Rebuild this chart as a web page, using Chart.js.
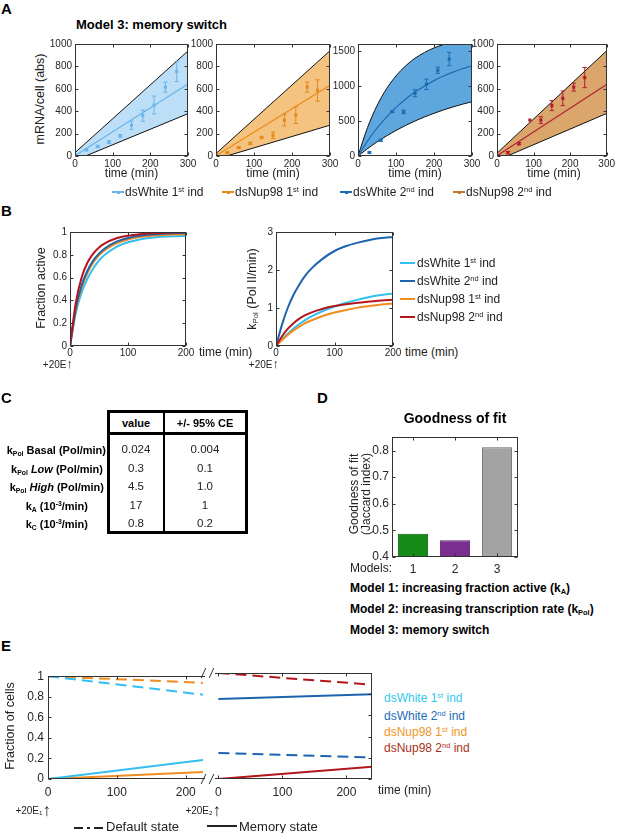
<!DOCTYPE html>
<html lang="en">
<head>
<meta charset="UTF-8">
<title>Model 3: memory switch</title>
<script src="https://cdn.jsdelivr.net/npm/chart.js"></script>
<style>
  body { margin: 0; background: #fff; }
  #fig { position: relative; width: 617px; height: 833px; overflow: hidden; background: #fff;
         font-family: 'Liberation Sans', Arial, Helvetica, sans-serif; color: #222; }
  #fig canvas { position: absolute; }
  .t { position: absolute; white-space: nowrap; line-height: 1; font-size: 12px; }
  .t sup { font-size: 0.62em; vertical-align: 0.55em; line-height: 0; }
  .t sub { font-size: 0.62em; vertical-align: -0.3em; line-height: 0; }
  .b { font-weight: bold; color: #000; }
  .n { font-family: 'Liberation Sans Narrow', 'Arial Narrow', 'Liberation Sans', Arial, sans-serif; }
  .ln { position: absolute; background: #000; }
</style>
</head>
<body>
<div id="fig"></div>
<script>
// ---------------- data ----------------
// A: mRNA per cell, measured means +/- error, and model band / fit
const timeTicksA = [0, 100, 200, 300];
const mrnaTicks = [0, 200, 400, 600, 800, 1000];
const mrnaTicksHigh = [0, 500, 1000, 1500];

const tWt1 = [0, 30, 60, 90, 120, 150, 180, 210, 240, 270];
const wt1Mean = [5, 55, 85, 125, 180, 275, 360, 455, 615, 755];
const wt1Err = [0, 8, 10, 12, 12, 37, 50, 80, 45, 90];
const tNup1 = [0, 30, 60, 90, 120, 150, 180, 210, 240, 267];
const nup1Mean = [10, 30, 75, 112, 165, 185, 320, 365, 615, 585];
const nup1Err = [0, 5, 8, 10, 10, 30, 52, 75, 45, 95];
const tWt2 = [0, 30, 60, 90, 120, 150, 180, 210, 240];
const wt2Mean = [0, 50, 225, 634, 630, 897, 1023, 1225, 1385];
const wt2Err = [0, 10, 15, 12, 25, 50, 75, 45, 95];
const tNup2 = [0, 30, 60, 90, 120, 150, 180, 210, 240];
const nup2Mean = [0, 30, 110, 320, 320, 450, 515, 615, 700];
const nup2Err = [0, 10, 10, 0, 30, 45, 65, 35, 90];

const bandT = [0, 300];
const lowT = [0, 28, 300];
const wt1Upper = [30, 938];
const wt1Lower = [0, 0, 378];
const wt1Fit = [3, 643];
const nup1Upper = [22, 940];
const nup1Lower = [0, 0, 275];
const nup1Fit = [3, 632];
const nup2Upper = [25, 940];
const nup2Lower = [0, 0, 380];
const nup2Fit = [3, 638];

const curveT = [0, 25, 50, 75, 100, 125, 150, 175, 200, 225, 250, 275, 300];
const wt2Upper = [0, 406, 719, 960, 1144, 1287, 1396, 1479, 1544, 1593, 1631, 1661, 1683];
const wt2Lower = [0, 105, 201, 287, 365, 436, 500, 558, 610, 658, 701, 740, 775];
const wt2Fit = [0, 213, 397, 556, 694, 812, 913, 1001, 1077, 1142, 1198, 1247, 1290];

// B: fraction active and kPol over time
const tB = [0, 10, 20, 30, 40, 50, 60, 80, 100, 120, 140, 160, 180, 200];
const timeTicksB = [0, 100, 200];
const fracTicks = [0, 0.2, 0.4, 0.6, 0.8, 1];
const kpolTicks = [0, 1, 2, 3];
const fracWt1 = [0, 0.29, 0.47, 0.59, 0.68, 0.75, 0.80, 0.87, 0.91, 0.935, 0.95, 0.958, 0.963, 0.966];
const fracWt2 = [0, 0.33, 0.53, 0.66, 0.75, 0.81, 0.855, 0.915, 0.948, 0.967, 0.978, 0.985, 0.989, 0.991];
const fracNup1 = [0, 0.32, 0.51, 0.64, 0.73, 0.795, 0.84, 0.90, 0.935, 0.955, 0.967, 0.974, 0.979, 0.982];
const fracNup2 = [0, 0.38, 0.60, 0.73, 0.81, 0.865, 0.90, 0.945, 0.968, 0.981, 0.989, 0.993, 0.996, 0.998];
const kpolWt1 = [0, 0.17, 0.32, 0.46, 0.58, 0.68, 0.77, 0.92, 1.04, 1.14, 1.22, 1.29, 1.34, 1.38];
const kpolWt2 = [0, 0.55, 1.0, 1.35, 1.62, 1.85, 2.03, 2.3, 2.5, 2.63, 2.72, 2.79, 2.84, 2.87];
const kpolNup1 = [0, 0.15, 0.29, 0.41, 0.51, 0.60, 0.67, 0.79, 0.88, 0.95, 1.01, 1.05, 1.09, 1.12];
const kpolNup2 = [0, 0.25, 0.45, 0.60, 0.72, 0.81, 0.88, 0.98, 1.05, 1.10, 1.14, 1.17, 1.20, 1.22];

// C: fitted parameters
const paramNames = ['k<sub>Pol</sub> Basal (Pol/min)', 'k<sub>Pol</sub> <i>Low</i> (Pol/min)',
  'k<sub>Pol</sub> <i>High</i> (Pol/min)', 'k<sub>A</sub> (10<sup>-3</sup>/min)', 'k<sub>C</sub> (10<sup>-3</sup>/min)'];
const paramValues = ['0.024', '0.3', '4.5', '17', '0.8'];
const paramCE = ['0.004', '0.1', '1.0', '1', '0.2'];

// D: goodness of fit
const models = ['1', '2', '3'];
const jaccard = [0.487, 0.463, 0.812];
const jaccardTicks = [0.4, 0.5, 0.6, 0.7, 0.8];
const modelNotes = ['Model 1: increasing fraction active (k<sub>A</sub>)',
  'Model 2: increasing transcription rate (k<sub>Pol</sub>)', 'Model 3: memory switch'];

// E: fraction of cells in default / memory state
const timeTicksE = [0, 100, 200];
const eFirstT = [0, 225];
const eSecondT = [0, 240];
const wt1Default = [1.0, 0.82];
const wt1Memory = [0, 0.185];
const nup1Default = [1.0, 0.935];
const nup1Memory = [0, 0.068];
const wt2Default = [0.245, 0.203];
const wt2Memory = [0.755, 0.80];
const nup2Default = [1.0, 0.89];
const nup2Memory = [0, 0.115];

const seriesNames = ['dsWhite 1<sup>st</sup> ind', 'dsWhite 2<sup>nd</sup> ind',
  'dsNup98 1<sup>st</sup> ind', 'dsNup98 2<sup>nd</sup> ind'];

// ---------------- helpers ----------------
const fig = document.getElementById('fig');
Chart.defaults.font.family = "'Liberation Sans', Arial, sans-serif";
Chart.defaults.color = '#262626';
Chart.defaults.animation = false;
Chart.defaults.plugins.legend.display = false;
Chart.defaults.plugins.tooltip.enabled = false;
Chart.defaults.elements.point.radius = 0;
Chart.defaults.elements.point.hoverRadius = 0;

const xy = (xs, ys) => xs.map((x, i) => ({x, y: ys[i]}));

function label(html, x, y, css = '', align = 'l') {
  const d = document.createElement('div');
  d.className = 't';
  d.innerHTML = html;
  const tx = align === 'c' ? '-50%' : align === 'r' ? '-100%' : '0';
  d.style.cssText = `left:${x}px;top:${y}px;transform:translate(${tx},-50%);${css}`;
  fig.appendChild(d);
  return d;
}
function vlabel(html, x, y, css = '') {
  const d = document.createElement('div');
  d.className = 't';
  d.innerHTML = html;
  d.style.cssText = `left:${x}px;top:${y}px;transform:translate(-50%,-50%) rotate(-90deg);${css}`;
  fig.appendChild(d);
}
function rule(x, y, w, h, color = '#000') {
  const d = document.createElement('div');
  d.className = 'ln';
  d.style.cssText = `left:${x}px;top:${y}px;width:${w}px;height:${h}px;background:${color}`;
  fig.appendChild(d);
}
function swatch(x1, x2, y, color, w, marker) {
  rule(x1, y - w / 2, x2 - x1, w, color);
  if (marker) rule((x1 + x2) / 2 - 1.5, y - 1.5, 3, 3, color);
}

// axes box with inward ticks, like the original figure
const boxPlugin = {
  id: 'box',
  afterDatasetsDraw(chart, args, o) {
    const {ctx, chartArea: a, scales: {x, y}} = chart;
    const sides = o.sides || 'ltrb';
    const tl = 3;
    const L = Math.round(a.left) + 0.5, R = Math.round(a.right) - 0.5;
    const T = Math.round(a.top) + 0.5, B = Math.round(a.bottom) - 0.5;
    ctx.save();
    ctx.strokeStyle = '#333';
    ctx.lineWidth = 1;
    ctx.beginPath();
    if (sides.includes('l')) { ctx.moveTo(L, T); ctx.lineTo(L, B); }
    if (sides.includes('r')) { ctx.moveTo(R, T); ctx.lineTo(R, B); }
    if (sides.includes('t')) { ctx.moveTo(L - 0.5, T); ctx.lineTo(R + 0.5, T); }
    if (sides.includes('b')) { ctx.moveTo(L - 0.5, B); ctx.lineTo(R + 0.5, B); }
    x.ticks.forEach(t => {
      const px = Math.round(x.getPixelForValue(t.value)) + 0.5;
      if (sides.includes('b')) { ctx.moveTo(px, B); ctx.lineTo(px, B - tl); }
      if (sides.includes('t')) { ctx.moveTo(px, T); ctx.lineTo(px, T + tl); }
    });
    y.ticks.forEach(t => {
      const py = Math.round(y.getPixelForValue(t.value)) + 0.5;
      if (sides.includes('l')) { ctx.moveTo(L, py); ctx.lineTo(L + tl, py); }
      if (sides.includes('r')) { ctx.moveTo(R, py); ctx.lineTo(R - tl, py); }
    });
    ctx.stroke();
    ctx.restore();
  }
};

function axis(min, max, ticks, size, pad, show = true) {
  return {
    type: 'linear', min, max, offset: false,
    grid: {display: false, drawTicks: false},
    border: {display: false},
    ticks: {display: show, font: {size}, padding: pad, color: '#262626',
            callback: v => String(v), maxRotation: 0, autoSkip: false},
    afterBuildTicks: s => { s.ticks = ticks.map(v => ({value: v})); }
  };
}

// place a chart so its plot area lands on box = [x, y, w, h]
function plot(box, cfg, pad) {
  const [bx, by, bw, bh] = box;
  const p = Object.assign({l: 32, b: 18, t: 8, r: 12}, pad);
  const W = bw + p.l + p.r, H = bh + p.t + p.b;
  const c = document.createElement('canvas');
  c.width = W; c.height = H;
  c.style.left = (bx - p.l) + 'px';
  c.style.top = (by - p.t) + 'px';
  c.style.width = W + 'px';
  c.style.height = H + 'px';
  fig.appendChild(c);
  const o = cfg.options;
  o.responsive = false;
  o.maintainAspectRatio = false;
  o.layout = {padding: {left: 0, top: p.t, right: p.r, bottom: 0}, autoPadding: false};
  o.scales.x.afterFit = s => { s.height = p.b; };
  o.scales.y.afterFit = s => { s.width = p.l; };
  cfg.plugins = [boxPlugin];
  return new Chart(c, cfg);
}

function panelA(box, s, pad) {
  const errPts = [];
  s.t.forEach((t, i) => {
    if (s.err[i] > 0) errPts.push({x: t, y: s.mean[i] - s.err[i]}, {x: t, y: s.mean[i] + s.err[i]}, {x: t, y: null});
  });
  const mode = s.curved ? 'monotone' : 'default';
  return plot(box, {
    type: 'line',
    data: {datasets: [
      {data: xy(s.t, s.mean), showLine: false, pointStyle: 'rect', pointRadius: 2.2,
       pointBackgroundColor: s.pt, pointBorderColor: s.pt, pointBorderWidth: 0},
      {data: errPts, borderColor: s.pt, borderWidth: 1, pointStyle: 'line', pointRadius: 2.2,
       pointBorderColor: s.pt, pointBorderWidth: 1, spanGaps: false},
      {data: xy(s.fitT, s.fit), borderColor: s.line, borderWidth: 1.2, cubicInterpolationMode: mode},
      {data: xy(s.upT, s.up), borderColor: '#111', borderWidth: 1, fill: '+1',
       backgroundColor: s.fill, cubicInterpolationMode: mode},
      {data: xy(s.loT, s.lo), borderColor: '#111', borderWidth: 1, cubicInterpolationMode: mode}
    ]},
    options: {
      plugins: {filler: {drawTime: 'beforeDatasetsDraw'}},
      scales: {x: axis(0, 300, timeTicksA, 10, 2), y: axis(0, s.ymax, s.yt, 10, 3)}
    }
  }, pad);
}

function panelB(box, series, ymax, yt) {
  return plot(box, {
    type: 'line',
    data: {datasets: series.map(([ys, col]) => ({data: xy(tB, ys), borderColor: col,
      borderWidth: 2, cubicInterpolationMode: 'monotone'}))},
    options: {scales: {x: axis(0, 200, timeTicksB, 10, 1), y: axis(0, ymax, yt, 10, 3)}}
  });
}

function eLine(t, ys, col, dashed) {
  return {data: xy(t, ys), borderColor: col, borderWidth: 2, borderDash: dashed ? [11, 6] : []};
}

// ---------------- colours ----------------
const cyan = '#33bff0', blue = '#1d63ae', orange = '#f08c20', red = '#b3161c';

// ---------------- panel A ----------------
label('A', 1, 8, 'font-weight:bold;font-size:15px;color:#000');
label('Model 3: memory switch', 76, 24, 'font-weight:bold;font-size:13px;color:#000');
vlabel('mRNA/cell (abs)', 40, 99, 'font-size:12.5px');

panelA([75, 43, 113, 113], {t: tWt1, mean: wt1Mean, err: wt1Err, upT: bandT, up: wt1Upper,
  loT: lowT, lo: wt1Lower, fitT: bandT, fit: wt1Fit, ymax: 1000, yt: mrnaTicks,
  pt: '#6cb4ea', line: '#6cb4ea', fill: '#bcdff7'});
panelA([216, 43, 114, 113], {t: tNup1, mean: nup1Mean, err: nup1Err, upT: bandT, up: nup1Upper,
  loT: lowT, lo: nup1Lower, fitT: bandT, fit: nup1Fit, ymax: 1000, yt: mrnaTicks,
  pt: '#e5891c', line: '#e88a1c', fill: '#f5c380'});
panelA([358, 43, 114, 113], {t: tWt2, mean: wt2Mean, err: wt2Err, upT: curveT, up: wt2Upper,
  loT: curveT, lo: wt2Lower, fitT: curveT, fit: wt2Fit, ymax: 1600, yt: mrnaTicksHigh,
  pt: '#1a6db5', line: '#1a6db5', fill: '#5ea6de', curved: true});
panelA([497, 43, 114, 113], {t: tNup2, mean: nup2Mean, err: nup2Err, upT: bandT, up: nup2Upper,
  loT: lowT, lo: nup2Lower, fitT: bandT, fit: nup2Fit, ymax: 1000, yt: mrnaTicks,
  pt: '#b51c30', line: '#b22030', fill: '#dba66c'}, {r: 6});
[131.5, 273, 415, 554].forEach(x => label('time (min)', x, 173, 'font-size:12px', 'c'));

const legAOrder = [0, 2, 1, 3];
const legAColors = ['#6cb4ea', '#e88a1c', '#1a6db5', '#c57b2c'];
const legAX = [112, 222, 340, 453];
legAOrder.forEach((k, i) => {
  swatch(legAX[i], legAX[i] + 12, 192, legAColors[i], 1.5, true);
  label(seriesNames[k], legAX[i] + 13, 192, 'font-size:12px');
});

// ---------------- panel B ----------------
label('B', 1, 210, 'font-weight:bold;font-size:15px;color:#000');
panelB([70, 231, 116, 115], [[fracNup2, red], [fracWt2, blue], [fracNup1, orange], [fracWt1, cyan]], 1, fracTicks);
panelB([276, 231, 117, 115], [[kpolNup2, red], [kpolWt2, blue], [kpolNup1, orange], [kpolWt1, cyan]], 3, kpolTicks);
vlabel('Fraction active', 41, 288, 'font-size:12.5px');
vlabel('k<sub>Pol</sub> (Pol II/min)', 252, 289, 'font-size:12.5px');
label('time (min)', 199, 352, 'font-size:12px');
label('time (min)', 405, 352, 'font-size:12px');
label('+20E<span style="font-size:13px">&#8593;</span>', 73, 363, 'font-size:10px', 'r');
label('+20E<span style="font-size:13px">&#8593;</span>', 279, 363, 'font-size:10px', 'r');
const legBColors = [cyan, blue, orange, red];
[263, 281, 299, 317].forEach((y, i) => {
  swatch(400, 415, y, legBColors[i], 2);
  label(seriesNames[i], 417, y, 'font-size:12px');
});

// ---------------- panel C ----------------
label('C', 1, 397, 'font-weight:bold;font-size:15px;color:#000');
rule(107, 410, 141, 3);
rule(107, 432, 141, 3);
rule(107, 531, 141, 3);
rule(107, 410, 3, 124);
rule(245, 410, 3, 124);
rule(163, 410, 2, 124);
label('value', 136, 423, 'font-size:11px', 'c').classList.add('b', 'n');
label('+/- 95% CE', 205, 423, 'font-size:11px', 'c').classList.add('b', 'n');
const rowY = [450, 468.5, 487, 505.5, 524];
const rowRight = [106, 103, 104, 88, 88];
paramNames.forEach((nm, i) => {
  label(nm, rowRight[i], rowY[i], 'font-size:11px', 'r').classList.add('b', 'n');
  label(paramValues[i], 136, rowY[i], 'font-size:11.5px', 'c');
  label(paramCE[i], 205, rowY[i], 'font-size:11.5px', 'c');
});

// ---------------- panel D ----------------
label('D', 317, 397, 'font-weight:bold;font-size:15px;color:#000');
label('Goodness of fit', 455, 418, 'font-weight:bold;font-size:14px;color:#000', 'c');
plot([392, 435, 126, 122], {
  type: 'bar',
  data: {labels: models, datasets: [{data: jaccard,
    backgroundColor: ['#168a16', '#7a2e8f', '#a3a3a3'],
    borderColor: ['#0d5e0d', '#55206a', '#666'], borderWidth: 1,
    barPercentage: 0.72, categoryPercentage: 1}]},
  options: {scales: {
    x: {type: 'category', offset: true, grid: {display: false, drawTicks: false}, border: {display: false},
        ticks: {font: {size: 12}, padding: 5, color: '#262626'}},
    y: axis(0.4, 0.85, jaccardTicks, 12, 3)
  }}
}, {l: 32, b: 20, t: 8, r: 8});
vlabel('Goodness of fit<br>(Jaccard index)', 360, 494, 'font-size:12px;line-height:12px;text-align:center');
label('Models:', 350, 568, 'font-size:12px');
[588, 609, 630].forEach((y, i) => label(modelNotes[i], 350, y, 'font-size:12px').classList.add('b', 'n'));

// ---------------- panel E ----------------
label('E', 1, 645, 'font-weight:bold;font-size:15px;color:#000');
plot([48, 673, 157, 106], {
  type: 'line',
  data: {datasets: [
    eLine(eFirstT, wt1Default, cyan, true), eLine(eFirstT, nup1Default, orange, true),
    eLine(eFirstT, wt1Memory, cyan, false), eLine(eFirstT, nup1Memory, orange, false)
  ]},
  options: {plugins: {box: {sides: 'ltb'}},
    scales: {x: axis(0, 228, timeTicksE, 12, 6), y: axis(0, 1, fracTicks, 12, 4)}}
}, {l: 40, b: 22, t: 8, r: 4});
plot([213, 673, 159, 106], {
  type: 'line',
  data: {datasets: [
    eLine(eSecondT, nup2Default, red, true), eLine(eSecondT, wt2Memory, blue, false),
    eLine(eSecondT, wt2Default, blue, true), eLine(eSecondT, nup2Memory, red, false)
  ]},
  options: {plugins: {box: {sides: 'trb'}},
    scales: {x: axis(-6, 240, timeTicksE, 12, 6), y: axis(0, 1, fracTicks, 12, 4, false)}}
}, {l: 4, b: 22, t: 8, r: 8});
// axis break marks
[[203, 673], [211, 673], [203, 779], [211, 779]].forEach(([x, y]) => {
  const d = document.createElement('div');
  d.className = 'ln';
  d.style.cssText = `left:${x}px;top:${y - 5}px;width:1px;height:10px;background:#333;transform:skewX(-25deg)`;
  fig.appendChild(d);
});
vlabel('Fraction of cells', 10, 726, 'font-size:12.5px');
label('time (min)', 378, 790, 'font-size:12px');
label('+20E<sub>1</sub><span style="font-size:17px;vertical-align:-2px">&#8593;</span>', 51, 810, 'font-size:10px', 'r');
label('+20E<sub>2</sub><span style="font-size:17px;vertical-align:-2px">&#8593;</span>', 221, 810, 'font-size:10px', 'r');
const legEColors = ['#35c8ef', '#1c6cb4', '#f0951f', '#a83220'];
[698, 716, 732, 748].forEach((y, i) => label(seriesNames[i], 384, y, `font-size:12px;color:${legEColors[i]}`));
const dash = document.createElement('div');
dash.className = 't';
dash.style.cssText = 'left:74px;top:826px;transform:translateY(-50%)';
dash.innerHTML = '<svg width="30" height="4"><line x1="0" y1="2" x2="30" y2="2" stroke="#222" stroke-width="2" stroke-dasharray="9,4,3,4"/></svg>';
fig.appendChild(dash);
label('Default state', 106, 826, 'font-size:13px');
swatch(207, 237, 826, '#222', 2);
label('Memory state', 239, 826, 'font-size:13px');
</script>
</body>
</html>
